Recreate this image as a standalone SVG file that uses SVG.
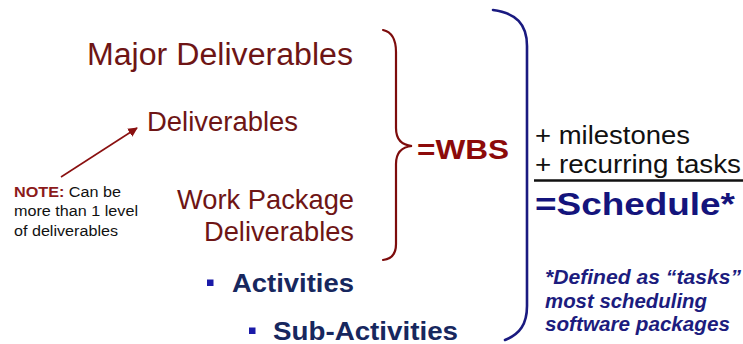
<svg xmlns="http://www.w3.org/2000/svg" width="743" height="344" viewBox="0 0 743 344">
  <style>
    text { font-family: "Liberation Sans", Arial, sans-serif; }
    .maroon { fill: #6e1515; }
    .wbs { fill: #8c0a0a; font-weight: bold; }
    .note-b { fill: #8c1a1a; font-weight: bold; }
    .black { fill: #111111; }
    .sched { fill: #14147c; font-weight: bold; }
    .foot { fill: #1c1c7e; font-weight: bold; font-style: italic; font-size: 20px; }
    .act { fill: #17275e; font-weight: bold; font-size: 26.5px; }
    .bullet { fill: #1a1aa8; }
    .brace-red { fill: none; stroke: #7d0c0c; stroke-width: 2.2; stroke-linecap: round; }
    .brace-blue { fill: none; stroke: #1a1a80; stroke-width: 2.6; stroke-linecap: round; }
    .arrow { stroke: #8a1010; stroke-width: 1.6; fill: none; }
  </style>
  <defs>
    <marker id="arrowhead" viewBox="0 0 10 10" refX="9" refY="5" markerWidth="6" markerHeight="6" orient="auto" markerUnits="strokeWidth">
      <path d="M0,0 L10,5 L0,10 z" fill="#8a1010"/>
    </marker>
  </defs>
  <rect width="743" height="344" fill="#ffffff"/>

  <!-- deliverable levels -->
  <g id="major-deliverables">
    <text class="maroon" x="87" y="65" font-size="31" textLength="266" lengthAdjust="spacingAndGlyphs">Major Deliverables</text>
  </g>
  <g id="deliverables">
    <text class="maroon" x="147" y="131" font-size="27" textLength="151" lengthAdjust="spacingAndGlyphs">Deliverables</text>
  </g>
  <g id="work-package-deliverables">
    <text class="maroon" x="177" y="209" font-size="28" textLength="177" lengthAdjust="spacingAndGlyphs">Work Package</text>
    <text class="maroon" x="204" y="241" font-size="28" textLength="150" lengthAdjust="spacingAndGlyphs">Deliverables</text>
  </g>

  <!-- side note -->
  <g id="note">
    <text x="14" y="196.5" font-size="15.5" textLength="107" lengthAdjust="spacingAndGlyphs"><tspan class="note-b">NOTE:</tspan><tspan class="black"> Can be</tspan></text>
    <text class="black" x="14" y="216" font-size="15.5" textLength="124" lengthAdjust="spacingAndGlyphs">more than 1 level</text>
    <text class="black" x="14" y="235.5" font-size="15.5" textLength="104" lengthAdjust="spacingAndGlyphs">of deliverables</text>
  </g>

  <!-- activities -->
  <g id="activities">
    <rect class="bullet" x="207" y="279.5" width="6.5" height="6.5"/>
    <text class="act" x="232" y="291.5" textLength="122" lengthAdjust="spacingAndGlyphs">Activities</text>
  </g>
  <g id="sub-activities">
    <rect class="bullet" x="249" y="327.5" width="6.5" height="6.5"/>
    <text class="act" x="273" y="339.5" textLength="185" lengthAdjust="spacingAndGlyphs">Sub-Activities</text>
  </g>

  <!-- WBS -->
  <g id="wbs">
    <text class="wbs" x="417" y="159" font-size="28.5" textLength="92" lengthAdjust="spacingAndGlyphs">=WBS</text>
  </g>

  <!-- schedule sum -->
  <g id="schedule">
    <text class="black" x="535" y="144" font-size="25" textLength="155" lengthAdjust="spacingAndGlyphs">+ milestones</text>
    <text class="black" x="535" y="173" font-size="25" textLength="206" lengthAdjust="spacingAndGlyphs">+ recurring tasks</text>
    <line x1="534" y1="180.5" x2="743" y2="180.5" stroke="#111111" stroke-width="2.4"/>
    <text class="sched" x="535" y="215" font-size="31" textLength="200" lengthAdjust="spacingAndGlyphs">=Schedule*</text>
  </g>
  <g id="footnote">
    <text class="foot" x="545" y="283.5" textLength="196" lengthAdjust="spacingAndGlyphs">*Defined as “tasks”</text>
    <text class="foot" x="545" y="307.5" textLength="162" lengthAdjust="spacingAndGlyphs">most scheduling</text>
    <text class="foot" x="545" y="330.5" textLength="185" lengthAdjust="spacingAndGlyphs">software packages</text>
  </g>

  <!-- connectors: braces and note arrow -->
  <g id="connectors">
    <path class="brace-red" d="M383,30 C392,32 396,40 396,52 L396,128 C396,139 401,145 412,146 C401,147 396,153 396,164 L396,244 C396,254 392,259 383,260"/>
    <path class="brace-blue" d="M493,10 C516,13 527,24 527,46 L527,306 C527,324 520,334 505,340"/>
    <line class="arrow" x1="61" y1="177" x2="137" y2="128" marker-end="url(#arrowhead)"/>
  </g>
</svg>
